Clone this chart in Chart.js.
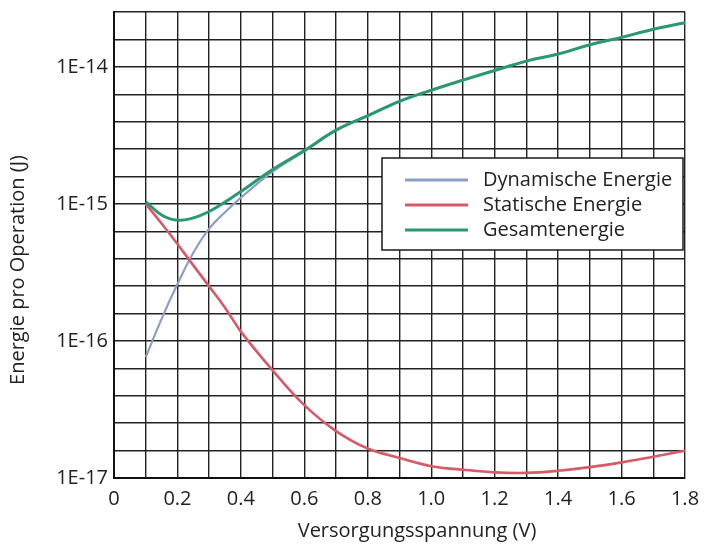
<!DOCTYPE html>
<html>
<head>
<meta charset="utf-8">
<script src="https://cdn.jsdelivr.net/npm/chart.js@4"></script>
<style>
  html, body { margin: 0; padding: 0; background: #fff; }
  #wrap { width: 722px; height: 545px; }
</style>
</head>
<body>
<div id="wrap"><canvas id="chart" width="722" height="545"></canvas></div>
<script>
// supply voltage in V
const voltage = [0.1, 0.15, 0.2, 0.25, 0.3, 0.35, 0.4, 0.5, 0.6, 0.7, 0.8, 0.9, 1.0, 1.1, 1.2, 1.3, 1.4, 1.5, 1.6, 1.7, 1.8];

// energy per operation in J
const dynamicEnergy = [7.6e-17, 1.45e-16, 2.6e-16, 4.4e-16, 6.6e-16, 8.7e-16, 1.11e-15, 1.72e-15, 2.42e-15, 3.43e-15, 4.38e-15, 5.59e-15, 6.74e-15, 8.0e-15, 9.4e-15, 1.1e-14, 1.24e-14, 1.45e-14, 1.64e-14, 1.88e-14, 2.1e-14];
const staticEnergy = [1.0e-15, 7.2e-16, 5.1e-16, 3.56e-16, 2.5e-16, 1.75e-16, 1.17e-16, 6.1e-17, 3.4e-17, 2.2e-17, 1.64e-17, 1.4e-17, 1.22e-17, 1.15e-17, 1.1e-17, 1.09e-17, 1.13e-17, 1.2e-17, 1.3e-17, 1.43e-17, 1.58e-17];
const totalEnergy = [1.04e-15, 8.3e-16, 7.6e-16, 7.9e-16, 8.8e-16, 1.03e-15, 1.23e-15, 1.78e-15, 2.45e-15, 3.45e-15, 4.4e-15, 5.6e-15, 6.75e-15, 8.0e-15, 9.4e-15, 1.1e-14, 1.24e-14, 1.45e-14, 1.64e-14, 1.88e-14, 2.1e-14];

const seriesLabels = ['Dynamische Energie', 'Statische Energie', 'Gesamtenergie'];
const yDecades = [-17, -16, -15, -14];
const yTickLabels = ['1E-17', '1E-16', '1E-15', '1E-14'];

const FONT = '"Open Sans", "Noto Sans", sans-serif';
const yTopExp = -13.6;

const toPoints = (arr) => arr.map((v, i) => ({ x: voltage[i], y: v }));

// legend box inside the plot plus the two axis titles
const overlay = {
    id: 'overlay',
    afterDraw(chart) {
        const { ctx, chartArea } = chart;
        const bx = chartArea.right - 303, by = chartArea.top + 146, bw = 301, bh = 92;
        ctx.save();
        ctx.fillStyle = '#fff';
        ctx.fillRect(bx, by, bw, bh);
        ctx.strokeStyle = '#1a1a1a';
        ctx.lineWidth = 1.5;
        ctx.strokeRect(bx, by, bw, bh);
        ctx.font = '20px ' + FONT;
        ctx.textBaseline = 'middle';
        chart.data.datasets.forEach((ds, i) => {
            const ly = by + 22 + i * 25;
            ctx.strokeStyle = ds.borderColor;
            ctx.lineWidth = 3;
            ctx.beginPath();
            ctx.moveTo(bx + 23, ly);
            ctx.lineTo(bx + 86, ly);
            ctx.stroke();
            ctx.fillStyle = '#222';
            ctx.fillText(ds.label, bx + 101, ly);
        });

        ctx.fillStyle = '#222';
        ctx.textAlign = 'center';
        ctx.fillText('Versorgungsspannung (V)', 417, 531);
        ctx.translate(18, 270);
        ctx.rotate(-Math.PI / 2);
        ctx.fillText('Energie pro Operation (J)', 0, 0);
        ctx.restore();
    }
};

const ctx = document.getElementById('chart').getContext('2d');
new Chart(ctx, {
    type: 'line',
    data: {
        datasets: [
            {
                label: seriesLabels[0],
                data: toPoints(dynamicEnergy),
                borderColor: '#8d9fc4',
                borderWidth: 2.2,
                order: 3,
            },
            {
                label: seriesLabels[1],
                data: toPoints(staticEnergy),
                borderColor: '#d65a67',
                borderWidth: 2.6,
                order: 2,
            },
            {
                label: seriesLabels[2],
                data: toPoints(totalEnergy),
                borderColor: '#2b9874',
                borderWidth: 3,
                order: 1,
            },
        ],
    },
    options: {
        responsive: false,
        animation: false,
        layout: { padding: { left: 0, top: 12, right: 37, bottom: 0 } },
        elements: {
            point: { radius: 0 },
            line: { tension: 0.4, fill: false },
        },
        plugins: {
            legend: { display: false },
            tooltip: { enabled: false },
        },
        scales: {
            x: {
                type: 'linear',
                min: 0,
                max: 1.8,
                afterFit: (scale) => { scale.height = 67; },
                border: { display: true, color: '#111', width: 2 },
                grid: { color: '#222', lineWidth: 1.4, drawTicks: false },
                ticks: {
                    stepSize: 0.1,
                    autoSkip: false,
                    maxRotation: 0,
                    padding: 9,
                    color: '#222',
                    font: { family: FONT, size: 20 },
                    callback: (v) => {
                        const t = Math.round(v * 10);
                        if (t % 2 !== 0) return '';
                        return t === 0 ? '0' : (t / 10).toFixed(1);
                    },
                },
            },
            y: {
                type: 'logarithmic',
                min: 1e-17,
                max: Math.pow(10, yTopExp),
                afterFit: (scale) => {
                    scale.width = 114;
                    scale.paddingTop = 0;
                    scale.paddingBottom = 0;
                },
                afterBuildTicks: (scale) => {
                    const ticks = [];
                    for (let k = 0; k <= 17; k++) {
                        const e = Math.round((-17 + k * 0.2) * 10) / 10;
                        ticks.push({ value: Math.pow(10, e) });
                    }
                    scale.ticks = ticks;
                },
                border: { display: true, color: '#111', width: 2 },
                grid: { color: '#222', lineWidth: 1.4, drawTicks: false },
                ticks: {
                    autoSkip: false,
                    padding: 6,
                    color: '#222',
                    font: { family: FONT, size: 20 },
                    callback: (v) => {
                        const e = Math.log10(v);
                        const idx = yDecades.indexOf(Math.round(e));
                        if (Math.abs(e - Math.round(e)) > 1e-6 || idx < 0) return '';
                        return yTickLabels[idx];
                    },
                },
            },
        },
    },
    plugins: [overlay],
});
</script>
</body>
</html>
